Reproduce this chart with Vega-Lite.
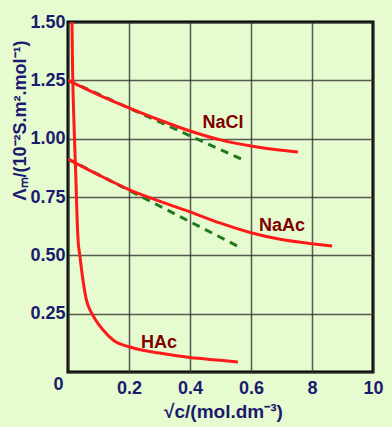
{
  "$schema": "https://vega.github.io/schema/vega-lite/v6.json",
  "width": 305,
  "height": 350,
  "autosize": {"type": "none"},
  "padding": {"left": 68, "top": 22, "right": 19, "bottom": 55},
  "background": "#e6fbcf",
  "config": {
    "view": {"stroke": "#000000", "strokeWidth": 3},
    "font": "Liberation Sans"
  },
  "datasets": {
    "curves": [
      {"series": "NaCl", "x": 0, "y": 1.25},
      {"series": "NaCl", "x": 0.1, "y": 1.188},
      {"series": "NaCl", "x": 0.2, "y": 1.132},
      {"series": "NaCl", "x": 0.3, "y": 1.08},
      {"series": "NaCl", "x": 0.4, "y": 1.033},
      {"series": "NaCl", "x": 0.5, "y": 0.995},
      {"series": "NaCl", "x": 0.6, "y": 0.969},
      {"series": "NaCl", "x": 0.7, "y": 0.95},
      {"series": "NaCl", "x": 0.754, "y": 0.943},
      {"series": "NaAc", "x": 0, "y": 0.913},
      {"series": "NaAc", "x": 0.1, "y": 0.845},
      {"series": "NaAc", "x": 0.2, "y": 0.782},
      {"series": "NaAc", "x": 0.3, "y": 0.732},
      {"series": "NaAc", "x": 0.4, "y": 0.686},
      {"series": "NaAc", "x": 0.5, "y": 0.638},
      {"series": "NaAc", "x": 0.6, "y": 0.597},
      {"series": "NaAc", "x": 0.7, "y": 0.568},
      {"series": "NaAc", "x": 0.8, "y": 0.55},
      {"series": "NaAc", "x": 0.866, "y": 0.54},
      {"series": "HAc", "x": 0.013, "y": 1.5},
      {"series": "HAc", "x": 0.015, "y": 1.3},
      {"series": "HAc", "x": 0.02, "y": 1.05},
      {"series": "HAc", "x": 0.026, "y": 0.823},
      {"series": "HAc", "x": 0.03, "y": 0.65},
      {"series": "HAc", "x": 0.033, "y": 0.566},
      {"series": "HAc", "x": 0.039, "y": 0.497},
      {"series": "HAc", "x": 0.049, "y": 0.394},
      {"series": "HAc", "x": 0.06, "y": 0.31},
      {"series": "HAc", "x": 0.079, "y": 0.249},
      {"series": "HAc", "x": 0.1, "y": 0.205},
      {"series": "HAc", "x": 0.115, "y": 0.18},
      {"series": "HAc", "x": 0.15, "y": 0.135},
      {"series": "HAc", "x": 0.203, "y": 0.107},
      {"series": "HAc", "x": 0.3, "y": 0.081},
      {"series": "HAc", "x": 0.4, "y": 0.062},
      {"series": "HAc", "x": 0.5, "y": 0.05},
      {"series": "HAc", "x": 0.557, "y": 0.043}
    ],
    "tangents": [
      {"series": "NaCl", "x": 0, "y": 1.25},
      {"series": "NaCl", "x": 0.574, "y": 0.909},
      {"series": "NaAc", "x": 0, "y": 0.913},
      {"series": "NaAc", "x": 0.561, "y": 0.536}
    ],
    "labels": [
      {"label": "NaCl", "x": 0.508, "y": 1.067},
      {"label": "NaAc", "x": 0.702, "y": 0.626},
      {"label": "HAc", "x": 0.298, "y": 0.124}
    ]
  },
  "encoding": {
    "x": {
      "field": "x",
      "type": "quantitative",
      "scale": {"domain": [0, 1], "nice": false, "zero": false},
      "axis": {
        "values": [0, 0.2, 0.4, 0.6, 0.8, 1.0],
        "labelExpr": "datum.value == 0 ? '0' : datum.value == 0.8 ? '8' : datum.value == 1 ? '10' : format(datum.value, '.1f')",
        "labelFont": "Liberation Sans",
        "labelFontSize": 18,
        "labelFontWeight": "bold",
        "labelColor": "#1a1a6e",
        "labelPadding": {"condition": {"test": "datum.value == 0", "value": 3}, "value": 7},
        "labelOffset": {"condition": {"test": "datum.value == 0", "value": -10}, "value": 0},
        "labelFlush": false,
        "labelOverlap": false,
        "ticks": false,
        "domain": false,
        "grid": true,
        "gridColor": "#333333",
        "gridOpacity": 0.8,
        "gridWidth": 1.5,
        "title": "√c/(mol.dm⁻³)",
        "titleFont": "Liberation Sans",
        "titleFontSize": 19,
        "titleFontWeight": "bold",
        "titleColor": "#1a1a6e",
        "titleX": 155,
        "titleY": 45,
        "titleAlign": "center",
        "titleBaseline": "alphabetic"
      }
    },
    "y": {
      "field": "y",
      "type": "quantitative",
      "scale": {"domain": [0, 1.5], "nice": false, "zero": false},
      "axis": {
        "values": [0, 0.25, 0.5, 0.75, 1.0, 1.25, 1.5],
        "labelExpr": "datum.value == 0 ? '' : format(datum.value, '.2f')",
        "labelFont": "Liberation Sans",
        "labelFontSize": 18,
        "labelFontWeight": "bold",
        "labelColor": "#1a1a6e",
        "labelPadding": 3,
        "labelFlush": false,
        "labelOverlap": false,
        "ticks": false,
        "domain": false,
        "grid": true,
        "gridColor": "#333333",
        "gridOpacity": 0.8,
        "gridWidth": 1.5,
        "title": "Λₘ/(10⁻²S.m².mol⁻¹)",
        "titleFont": "Liberation Sans",
        "titleFontSize": 18,
        "titleFontWeight": "bold",
        "titleColor": "#1a1a6e",
        "titleX": -43,
        "titleY": 98,
        "titleAngle": -90,
        "titleAlign": "center",
        "titleBaseline": "alphabetic"
      }
    }
  },
  "layer": [
    {
      "data": {"name": "tangents"},
      "mark": {"type": "line", "color": "#1f7a1f", "strokeWidth": 3, "strokeDash": [8, 6], "clip": true},
      "encoding": {"detail": {"field": "series"}}
    },
    {
      "data": {"name": "curves"},
      "mark": {"type": "line", "color": "#ff1a1a", "strokeWidth": 3, "interpolate": "monotone", "clip": true},
      "encoding": {"detail": {"field": "series"}}
    },
    {
      "data": {"name": "labels"},
      "mark": {"type": "text", "color": "#800000", "font": "Liberation Sans", "fontSize": 18, "fontWeight": "bold", "align": "center", "baseline": "middle"},
      "encoding": {"text": {"field": "label"}}
    }
  ]
}
